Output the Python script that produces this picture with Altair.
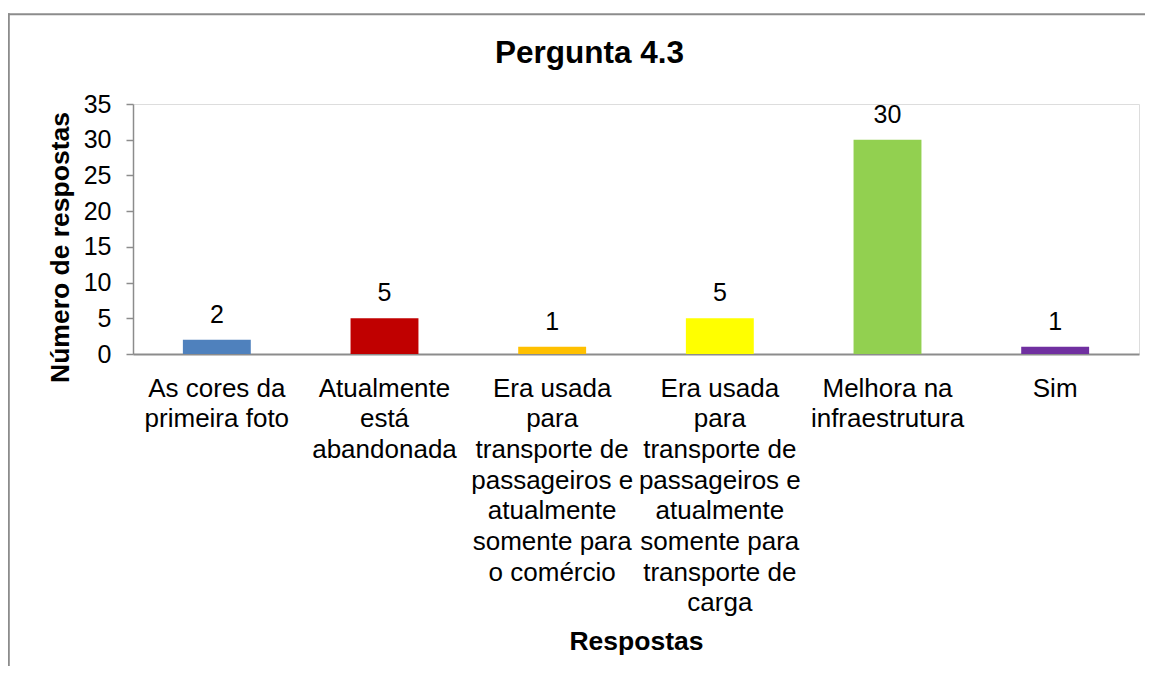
import altair as alt
import pandas as pd

# ---- data ----
categories = [
    "As cores da\nprimeira foto",
    "Atualmente\nestá\nabandonada",
    "Era usada\npara\ntransporte de\npassageiros e\natualmente\nsomente para\no comércio",
    "Era usada\npara\ntransporte de\npassageiros e\natualmente\nsomente para\ntransporte de\ncarga",
    "Melhora na\ninfraestrutura",
    "Sim",
]
values = [2, 5, 1, 5, 30, 1]
colors = ["#4F81BD", "#C00000", "#FFC000", "#FFFF00", "#92D050", "#7030A0"]
y_ticks = [0, 5, 10, 15, 20, 25, 30, 35]
chart_title = "Pergunta 4.3"
x_title = "Respostas"
y_title = "Número de respostas"

FONT = "Liberation Sans"
GRAY = "#8c8c8c"
PLOT_W, PLOT_H = 1006, 250

df = pd.DataFrame({"cat": categories, "val": values})

x_enc = alt.X(
    "cat:N",
    sort=categories,
    scale=alt.Scale(paddingInner=0.595, paddingOuter=0.2975),
    axis=alt.Axis(
        title=x_title,
        titleFont=FONT, titleFontSize=26.5, titleFontWeight="bold", titleColor="#000000",
        titleBaseline="middle", titleY=287,
        labelFont=FONT, labelFontSize=26, labelColor="#000000",
        labelLineHeight=30.7, labelAngle=0, labelBaseline="top",
        labelPadding=21, labelLimit=0, labelOverlap=False, labelBound=False,
        labelExpr="split(datum.label, '\\n')",
        ticks=False, domainColor=GRAY, domainWidth=2,
    ),
)
y_enc = alt.Y(
    "val:Q",
    scale=alt.Scale(domain=[0, 35], nice=False),
    axis=alt.Axis(
        title=y_title, values=y_ticks, tickCount=8, grid=False,
        titleFont=FONT, titleFontSize=26.5, titleFontWeight="bold", titleColor="#000000",
        titleBaseline="middle", titleX=-73, titleY=143, titleAngle=-90,
        labelFont=FONT, labelFontSize=25, labelColor="#000000", labelPadding=15,
        labelOverlap=False, labelBound=False,
        tickSize=7, tickColor=GRAY, tickWidth=1.5,
        domainColor=GRAY, domainWidth=1.5,
    ),
)

base = alt.Chart(df).encode(x=x_enc, y=y_enc)

bars = base.mark_bar().encode(
    color=alt.Color("cat:N", scale=alt.Scale(domain=categories, range=colors), legend=None),
)

labels = base.mark_text(
    font=FONT, fontSize=25, color="#000000", baseline="alphabetic", dy=-17
).encode(text=alt.Text("val:Q"))

title_df = pd.DataFrame({"t": [chart_title]})
title = alt.Chart(title_df).mark_text(
    font=FONT, fontSize=31.5, fontWeight="bold", color="#000000",
    baseline="alphabetic", align="center",
).encode(x=alt.value(456.5), y=alt.value(-41.3), text="t:N")

# outer frame of the original chart box: only its left and top edges are in view
frame_df = pd.DataFrame({"k": [0]})
frame_left = alt.Chart(frame_df).mark_rule(color=GRAY, strokeWidth=2).encode(
    x=alt.value(-124.2), y=alt.value(-90.7), y2=alt.value(600)
)
frame_top = alt.Chart(frame_df).mark_rule(color=GRAY, strokeWidth=2).encode(
    y=alt.value(-89.7), x=alt.value(-125), x2=alt.value(1060)
)

chart = alt.layer(frame_left, frame_top, bars, labels, title).properties(
    width=PLOT_W, height=PLOT_H,
    autosize=alt.AutoSizeParams(type="none"),
    padding={"left": 125, "top": 96, "right": 6, "bottom": 312},
).configure_view(stroke=None).configure(background="#ffffff")

chart.save("out.html", embed_options={"renderer": "svg", "actions": False})
